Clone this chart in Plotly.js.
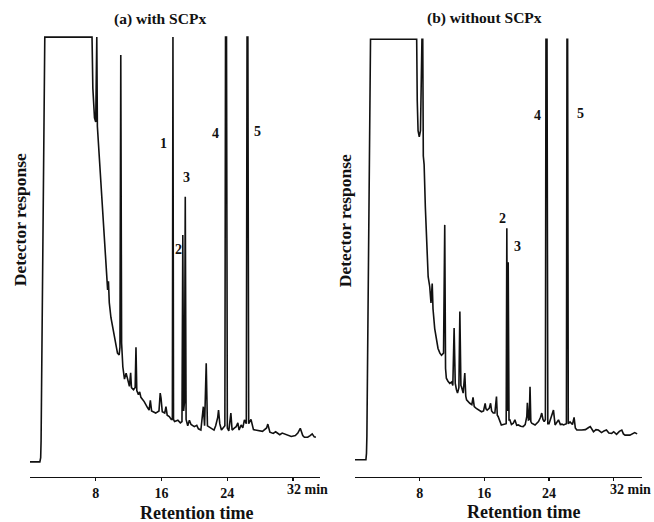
<!DOCTYPE html>
<html>
<head>
<meta charset="utf-8">
<script src="https://cdn.plot.ly/plotly-3.0.1.min.js"></script>
<style>html,body{margin:0;padding:0;background:#fff;}#chart{width:654px;height:522px;}</style>
</head>
<body>
<div id="chart"></div>
<script>
// Retention time (min) and detector response (% of full scale) — panel (a) with SCPx
const timeA = [0,1.2,1.3,1.35,1.8,7.55,7.65,7.85,8.0,8.07,8.13,8.2,8.5,8.8,9.1,9.3,9.45,9.55,9.65,9.85,10.05,10.25,10.45,10.65,10.85,10.95,11.05,11.15,11.3,11.5,11.7,11.9,12.1,12.25,12.35,12.6,12.8,12.9,13.0,13.2,13.35,13.5,13.9,14.3,14.5,14.65,14.8,15.3,15.7,15.85,15.95,16.1,16.4,16.55,16.7,16.95,17.2,17.33,17.4,17.47,17.6,18.0,18.3,18.5,18.6,18.7,18.8,18.9,19.0,19.2,19.4,19.6,20.0,20.3,20.5,20.8,21.1,21.25,21.45,21.6,22.0,22.4,22.6,22.85,22.95,23.1,23.3,23.5,23.72,23.8,23.92,24.02,24.2,24.45,24.6,24.9,25.1,25.3,25.45,25.7,25.9,26.1,26.33,26.42,26.52,26.62,26.9,27.2,27.6,28.0,28.3,28.8,28.95,29.2,29.6,29.9,30.4,30.7,31.2,31.8,32.3,32.6,32.9,33.2,33.4,33.8,34.1,34.35,34.6,34.8];
const respA = [0,0,1,5,100,100,88,81,80,100,100,79,70,60,50,43.6,40.5,42.5,37.5,34,31.8,29.5,28,25.6,25.2,27,95.8,28,22.4,19.5,20.9,19,17.8,21,17.5,17,17.5,27,16.8,15.8,16.5,15.2,14.2,12.8,12.2,14.5,12,11.5,12,16.2,15,11.8,11.5,13,11,10.7,10,10,100,10,9.5,9.8,9.2,9.5,53.4,12,14,62.4,10,8.5,9.8,8.8,8.3,8.6,7.8,7.5,13,8.5,23.2,8.5,8,7.5,8.5,10.5,12.2,9,7.5,8,8.5,100,100,8,7.3,11.5,7.5,8,8.3,9.2,7.5,8.7,8,9.9,9,100,100,9,10,7.6,7.5,7.3,7.2,8,8.9,7,6.7,7.1,6.4,6.8,6.4,6,6.2,6.8,7.9,6.2,5.8,5.8,6.2,6.6,5.9,5.8];

// Panel (b) without SCPx
const timeB = [0,1.35,1.42,1.47,1.92,7.63,7.7,7.8,7.95,8.1,8.28,8.38,8.45,8.55,8.7,8.9,9.05,9.24,9.4,9.55,9.65,9.86,10.05,10.27,10.5,10.7,10.95,11.1,11.2,11.3,11.5,11.72,11.95,12.1,12.26,12.4,12.55,12.68,12.85,12.97,13.1,13.17,13.38,13.58,13.7,13.8,14.2,14.45,14.6,14.75,15.0,15.3,15.65,15.9,16.1,16.2,16.35,16.6,16.77,16.9,17.1,17.3,17.5,17.6,17.7,18.1,18.4,18.7,18.78,18.86,18.95,19.05,19.15,19.35,19.58,19.78,20.0,20.2,20.5,20.8,21.05,21.25,21.32,21.45,21.55,21.65,21.75,21.86,22.27,22.5,22.7,22.95,23.1,23.25,23.4,23.55,23.62,23.75,23.85,24.0,24.34,24.55,24.75,24.95,25.17,25.4,25.6,25.8,26.0,26.15,26.22,26.3,26.38,26.6,26.9,27.1,27.25,27.44,28.05,28.5,28.9,29.1,29.5,29.8,30.1,30.5,30.8,31.1,31.4,31.75,32.0,32.35,32.7,33.0,33.2,33.4,34.0,34.3,34.6,34.9];
const respB = [0.5,0.5,2,6,99.5,99.5,85,78,76.5,78,99.5,99.5,72,70,60,47.5,43.6,41.3,37.4,42,36,31.4,29,26.7,25.6,25.1,25.6,55.8,22,19.7,19,18.5,18.8,18,31.5,18.5,17,16.2,17.5,35.4,18,17.7,16.2,20.9,15.5,14.6,13.8,13.5,15.2,13,12.6,12.3,11.8,12,13.8,12.5,12.2,12.6,13.8,12,11.5,11.5,15.4,11,10.7,8.7,8.8,9,55,12,47,9.9,9.9,8.8,9.1,9.9,8.6,8.7,8.4,8.3,8.8,10.7,13.9,9.9,10,17.7,9.5,9.1,8.7,9.2,9.5,10.5,11.5,10,9.5,10,99.5,99.5,9,9,10.7,12.2,8.7,9.3,9.9,8.8,8.9,8.7,9,9,99.5,99.5,9,9.4,8.8,10.5,8,7.5,7.5,7.6,8.1,8.3,7.1,7.6,7.5,6.9,7.3,7.5,6.8,6.7,7.1,6.5,7.2,7.5,6.6,6.3,6.3,6.6,6.9,6.6];

// Axis tick labels
const tickVals = [8, 16, 24, 32];
const tickText = ['8', '16', '24', ''];
const lastTickLabel = '32 min';

// Peak labels
const peakLabelsA = ['1', '2', '3', '4', '5'];
const peakTimesA = [16.2, 18.1, 19.1, 22.6, 27.75];
const peakRespA = [75, 50, 67, 77.4, 77.9];
const peakLabelsB = ['2', '3', '4', '5'];
const peakTimesB = [18.25, 20.1, 22.6, 27.9];
const peakRespB = [57.4, 50.6, 81.6, 82.1];

const panelTitles = ['(a) with SCPx', '(b) without SCPx'];
const xTitle = 'Retention time';
const yTitle = 'Detector response';

const FONT = 'Liberation Serif, Times New Roman, serif';
const ink = '#111';

const traces = [
  {x: timeA, y: respA, xaxis: 'x', yaxis: 'y', mode: 'lines', line: {color: ink, width: 1.6}, hoverinfo: 'skip'},
  {x: timeB, y: respB, xaxis: 'x2', yaxis: 'y2', mode: 'lines', line: {color: ink, width: 1.6}, hoverinfo: 'skip'}
];

function xaxis(domain, range) {
  return {
    domain: domain, range: range, showgrid: false, zeroline: false,
    showline: true, linecolor: ink, linewidth: 1.3,
    ticks: 'outside', ticklen: 3, tickwidth: 1.3, tickcolor: ink,
    tickmode: 'array', tickvals: tickVals, ticktext: tickText,
    tickfont: {family: FONT, size: 14, color: ink, weight: 700}
  };
}
function yaxis(anchor) {
  return {domain: [0, 1], range: [-3.55, 100.5], visible: false, anchor: anchor};
}

const ann = [];
const lab = (text, x, y, xref, yref, size, extra) => Object.assign({
  text: text, x: x, y: y, xref: xref, yref: yref, showarrow: false,
  xanchor: 'center', yanchor: 'middle',
  font: {family: FONT, size: size, color: ink, weight: 700}
}, extra || {});

peakLabelsA.forEach((t, i) => ann.push(lab(t, peakTimesA[i], peakRespA[i], 'x', 'y', 14)));
peakLabelsB.forEach((t, i) => ann.push(lab(t, peakTimesB[i], peakRespB[i], 'x2', 'y2', 14)));
ann.push(lab(lastTickLabel, 32, -0.0294, 'x', 'paper', 14, {xanchor: 'left', xshift: -7.5}));
ann.push(lab(lastTickLabel, 32, -0.0294, 'x2', 'paper', 14, {xanchor: 'left', xshift: -6}));
ann.push(lab(panelTitles[0], 160 / 654, 1.036, 'paper', 'paper', 15.5));
ann.push(lab(panelTitles[1], 484 / 654, 1.038, 'paper', 'paper', 15.5));
ann.push(lab(xTitle, 196 / 654, -0.0814, 'paper', 'paper', 18));
ann.push(lab(xTitle, 523.5 / 654, -0.079, 'paper', 'paper', 18));
ann.push(lab(yTitle, 20 / 654, 0.581, 'paper', 'paper', 17.5, {textangle: -90}));
ann.push(lab(yTitle, 345 / 654, 0.581, 'paper', 'paper', 17.5, {textangle: -90}));

const layout = {
  width: 654, height: 522,
  margin: {l: 0, r: 0, t: 35, b: 45},
  paper_bgcolor: '#fff', plot_bgcolor: '#fff',
  showlegend: false,
  xaxis: xaxis([30 / 654, 320 / 654], [0, 35.3]),
  xaxis2: xaxis([355 / 654, 642 / 654], [0, 35.5]),
  yaxis: yaxis('x'),
  yaxis2: yaxis('x2'),
  annotations: ann
};
layout.xaxis.anchor = 'y';
layout.xaxis2.anchor = 'y2';

Plotly.newPlot('chart', traces, layout, {staticPlot: true, displayModeBar: false});
</script>
</body>
</html>
